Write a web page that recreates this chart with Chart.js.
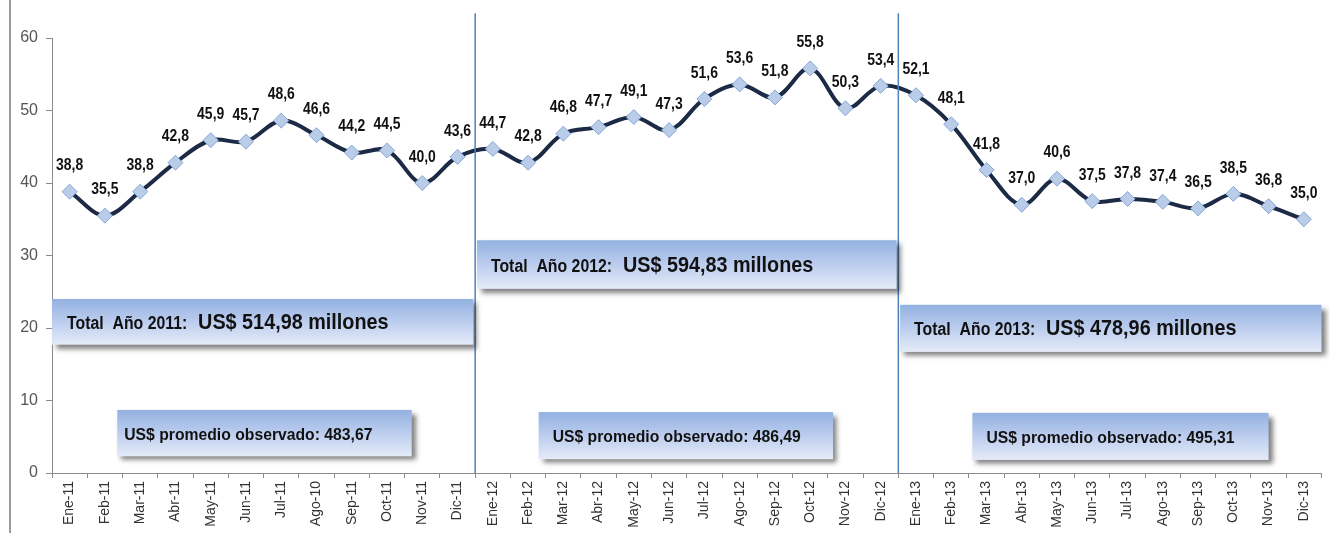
<!DOCTYPE html>
<html>
<head>
<meta charset="utf-8">
<script src="https://cdn.jsdelivr.net/npm/chart.js@4.4.1/dist/chart.umd.min.js"></script>
<style>
  html, body { margin: 0; padding: 0; background: #fff; }
  #wrap { position: relative; width: 1330px; height: 533px; }
</style>
</head>
<body>
<div id="wrap"><canvas id="chart" width="1330" height="533"></canvas></div>
<script>
// Monthly values (US$ millions), 2011-2013
const months = [
  'Ene-11','Feb-11','Mar-11','Abr-11','May-11','Jun-11','Jul-11','Ago-10','Sep-11','Oct-11','Nov-11','Dic-11',
  'Ene-12','Feb-12','Mar-12','Abr-12','May-12','Jun-12','Jul-12','Ago-12','Sep-12','Oct-12','Nov-12','Dic-12',
  'Ene-13','Feb-13','Mar-13','Abr-13','May-13','Jun-13','Jul-13','Ago-13','Sep-13','Oct-13','Nov-13','Dic-13'
];
const values2011 = [38.8, 35.5, 38.8, 42.8, 45.9, 45.7, 48.6, 46.6, 44.2, 44.5, 40.0, 43.6];
const values2012 = [44.7, 42.8, 46.8, 47.7, 49.1, 47.3, 51.6, 53.6, 51.8, 55.8, 50.3, 53.4];
const values2013 = [52.1, 48.1, 41.8, 37.0, 40.6, 37.5, 37.8, 37.4, 36.5, 38.5, 36.8, 35.0];
const yTicks = [0, 10, 20, 30, 40, 50, 60];

const totalLabels = ['Total  Año 2011:  ', 'Total  Año 2012:  ', 'Total  Año 2013:  '];
const totalValues = ['US$ 514,98 millones', 'US$ 594,83 millones', 'US$ 478,96 millones'];
const avgLabels = ['US$ promedio observado: 483,67', 'US$ promedio observado: 486,49', 'US$ promedio observado: 495,31'];

const values = values2011.concat(values2012, values2013);

// where the text boxes sit, in axis units (category index / y value)
const totalBoxes = [
  { x0: -0.5, x1: 11.45, y0: 24.0, y1: 17.7, pad: 15 },
  { x0: 11.55, x1: 23.45, y0: 32.1, y1: 25.4, pad: 14 },
  { x0: 23.55, x1: 35.5, y0: 23.2, y1: 16.7, pad: 14 }
];
const avgBoxes = [
  { x0: 1.35, x1: 9.7, y0: 8.7, y1: 2.3, pad: 7 },
  { x0: 13.3, x1: 21.65, y0: 8.4, y1: 1.9, pad: 14 },
  { x0: 25.6, x1: 34.0, y0: 8.3, y1: 1.8, pad: 14 }
];
const separators = [11.5, 23.5];

const FONT = '"Liberation Sans", Arial, sans-serif';

// condensed text (the original uses Arial Narrow)
function narrowText(ctx, text, x, y, font, sx, align) {
  ctx.save();
  ctx.font = font;
  ctx.textAlign = align || 'left';
  ctx.textBaseline = 'middle';
  ctx.translate(x, y);
  ctx.scale(sx, 1);
  ctx.fillText(text, 0, 0);
  const w = ctx.measureText(text).width * sx;
  ctx.restore();
  return w;
}

function drawBox(ctx, x, y, w, h) {
  ctx.save();
  ctx.shadowColor = 'rgba(0,0,0,0.5)';
  ctx.shadowBlur = 5;
  ctx.shadowOffsetX = 4;
  ctx.shadowOffsetY = 4;
  const g = ctx.createLinearGradient(0, y, 0, y + h);
  g.addColorStop(0, '#93b1e1');
  g.addColorStop(0.5, '#bccdee');
  g.addColorStop(1, '#e4ebf8');
  ctx.fillStyle = g;
  ctx.fillRect(x, y, w, h);
  ctx.restore();
}

const overlayPlugin = {
  id: 'overlay',
  beforeDraw(chart) {
    const ctx = chart.ctx;
    ctx.save();
    ctx.strokeStyle = '#9a9a9a';
    ctx.lineWidth = 2;
    ctx.beginPath();
    ctx.moveTo(10, 0);
    ctx.lineTo(10, chart.height);
    ctx.stroke();
    ctx.restore();
  },
  afterDatasetsDraw(chart) {
    const ctx = chart.ctx;
    const xs = chart.scales.x, ys = chart.scales.y;
    const step = xs.getPixelForValue(1) - xs.getPixelForValue(0);
    const px = v => xs.getPixelForValue(0) + v * step;

    // separators between years
    ctx.save();
    ctx.strokeStyle = '#4f81bd';
    ctx.lineWidth = 1.5;
    separators.forEach(s => {
      ctx.beginPath();
      ctx.moveTo(px(s), ys.getPixelForValue(63.4));
      ctx.lineTo(px(s), ys.getPixelForValue(0));
      ctx.stroke();
    });
    ctx.restore();

    // yearly totals
    totalBoxes.forEach((b, i) => {
      const x = px(b.x0), y = ys.getPixelForValue(b.y0);
      const w = px(b.x1) - x, h = ys.getPixelForValue(b.y1) - y;
      drawBox(ctx, x, y, w, h);
      ctx.fillStyle = '#111';
      const tx = x + b.pad, ty = y + h / 2 + 2;
      const off = narrowText(ctx, totalLabels[i], tx, ty, 'bold 18px ' + FONT, 0.88);
      narrowText(ctx, totalValues[i], tx + off + 2, ty - 1, 'bold 22px ' + FONT, 0.9);
    });

    // observed averages
    avgBoxes.forEach((b, i) => {
      const x = px(b.x0), y = ys.getPixelForValue(b.y0);
      const w = px(b.x1) - x, h = ys.getPixelForValue(b.y1) - y;
      drawBox(ctx, x, y, w, h);
      ctx.fillStyle = '#111';
      narrowText(ctx, avgLabels[i], x + b.pad, y + h / 2 + 2, 'bold 17px ' + FONT, 0.925);
    });

    // value labels above points
    const meta = chart.getDatasetMeta(0);
    ctx.fillStyle = '#111';
    meta.data.forEach((pt, i) => {
      narrowText(ctx, values[i].toFixed(1).replace('.', ','), pt.x, pt.y - 26, 'bold 17px ' + FONT, 0.82, 'center');
    });
  }
};

new Chart(document.getElementById('chart'), {
  type: 'line',
  data: {
    labels: months,
    datasets: [{
      data: values,
      borderColor: '#1c2a45',
      borderWidth: 4,
      tension: 0.35,
      pointStyle: 'rectRot',
      pointRadius: 7.5,
      pointHoverRadius: 7.5,
      pointBackgroundColor: '#b9cde9',
      pointBorderColor: '#86a6d8',
      pointBorderWidth: 1
    }]
  },
  options: {
    responsive: false,
    animation: false,
    events: [],
    layout: { padding: { left: 10, right: 3, top: 38, bottom: 0 } },
    plugins: { legend: { display: false }, tooltip: { enabled: false } },
    scales: {
      x: {
        offset: true,
        afterFit(scale) { scale.height = 60; },
        border: { color: '#8c8c8c', width: 1 },
        grid: { offset: true, drawOnChartArea: false, drawTicks: true, tickLength: 5, color: '#8c8c8c' },
        ticks: {
          autoSkip: false, maxRotation: 90, minRotation: 90,
          color: '#333', padding: 3,
          font: { family: FONT, size: 14 }
        }
      },
      y: {
        min: 0, max: 60,
        afterFit(scale) { scale.width = 42; },
        afterBuildTicks(scale) { scale.ticks = yTicks.map(v => ({ value: v })); },
        border: { color: '#8c8c8c', width: 1 },
        grid: { drawOnChartArea: false, drawTicks: true, tickLength: 6, color: '#8c8c8c' },
        ticks: {
          color: '#555', padding: 8,
          font: { family: FONT, size: 16 }
        }
      }
    }
  },
  plugins: [overlayPlugin]
});
</script>
</body>
</html>
